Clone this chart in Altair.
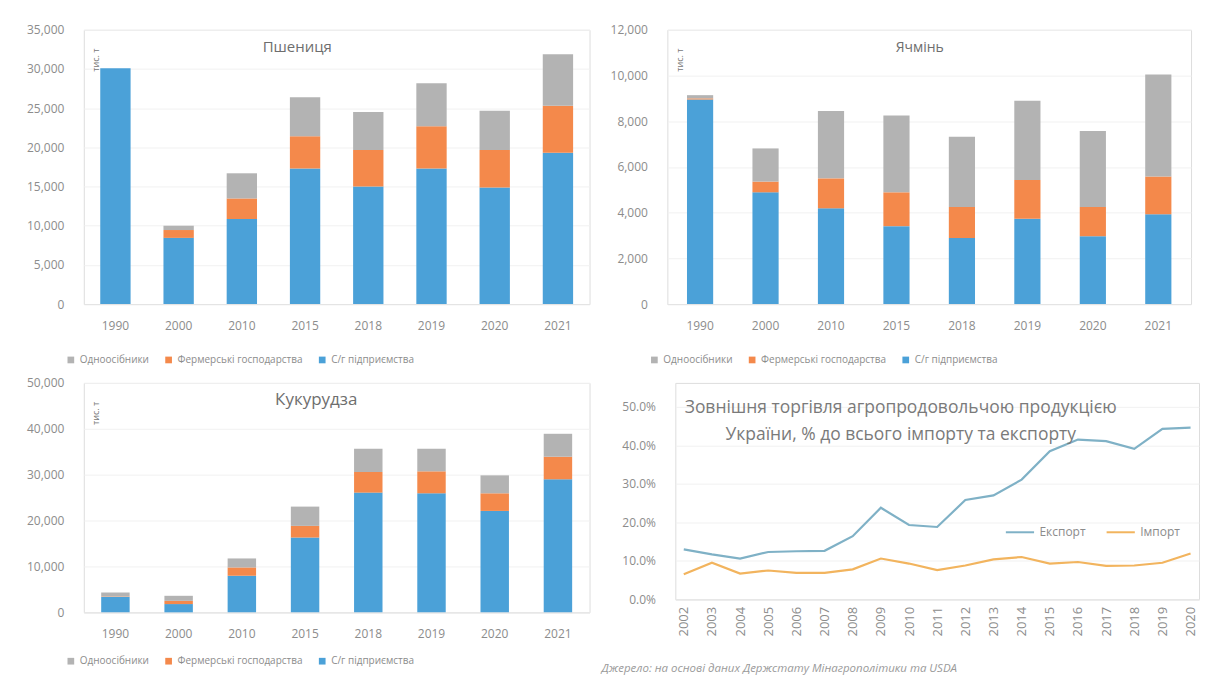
import altair as alt
import pandas as pd

FONT = "Open Sans"
GRAY_TXT = "#8c8c8c"

years = ["1990", "2000", "2010", "2015", "2018", "2019", "2020", "2021"]
series = ["Одноосібники", "Фермерські господарства", "С/г підприємства"]
bar_colors = ["#b3b3b3", "#f4894b", "#4ba1d8"]

# Пшениця, тис. т
wheat_enterprise = [30100, 8450, 10860, 17290, 15000, 17290, 14880, 19320]
wheat_farms = [0, 1000, 2620, 4140, 4650, 5410, 4770, 6000]
wheat_households = [0, 550, 3210, 4950, 4860, 5490, 5030, 6550]

# Ячмінь, тис. т
barley_enterprise = [8950, 4890, 4190, 3410, 2890, 3730, 2970, 3930]
barley_farms = [50, 470, 1310, 1480, 1360, 1700, 1280, 1650]
barley_households = [140, 1450, 2950, 3360, 3070, 3470, 3320, 4460]

# Кукурудза, тис. т
corn_enterprise = [3350, 1800, 7970, 16300, 26090, 25940, 22100, 28990]
corn_farms = [100, 700, 1810, 2540, 4490, 4790, 3840, 4920]
corn_households = [850, 1100, 1960, 4200, 5070, 4920, 3910, 5000]

# Зовнішня торгівля, %
trade_years = ["2002", "2003", "2004", "2005", "2006", "2007", "2008", "2009", "2010",
               "2011", "2012", "2013", "2014", "2015", "2016", "2017", "2018", "2019", "2020"]
export_share = [13.0, 11.7, 10.6, 12.3, 12.5, 12.6, 16.4, 23.8, 19.3, 18.8,
                25.8, 27.0, 31.1, 38.5, 41.5, 41.1, 39.1, 44.3, 44.6]
import_share = [6.5, 9.5, 6.7, 7.5, 6.9, 6.9, 7.8, 10.6, 9.3, 7.6,
                8.8, 10.4, 11.0, 9.3, 9.7, 8.7, 8.8, 9.5, 11.9]
trade_series = ["Експорт", "Імпорт"]
trade_colors = ["#7fb1c6", "#f2b45e"]


def bar_panel(title, ent, farm, hh, ymax, ystep, width, height, minext,
              title_x, title_dy, title_size, pad_inner, legend_dy):
    rows = []
    for i, yr in enumerate(years):
        rows.append({"year": yr, "series": series[2], "value": ent[i], "ord": 0})
        rows.append({"year": yr, "series": series[1], "value": farm[i], "ord": 1})
        rows.append({"year": yr, "series": series[0], "value": hh[i], "ord": 2})
    df = pd.DataFrame(rows)
    bars = alt.Chart(df).mark_bar().encode(
        x=alt.X("year:N", sort=years,
                scale=alt.Scale(paddingInner=pad_inner, paddingOuter=pad_inner / 2),
                axis=alt.Axis(title=None, labelAngle=0, ticks=False, domainColor="#e3e3e3",
                              labelColor=GRAY_TXT, labelFontSize=12, labelPadding=16)),
        y=alt.Y("value:Q", stack="zero",
                scale=alt.Scale(domain=[0, ymax], nice=False),
                axis=alt.Axis(title="тис. т", titleX=12, titleY=30, titleAlign="center",
                              titleBaseline="middle", titleFontSize=9, titleFontWeight="normal",
                              titleColor="#777777",
                              values=list(range(0, ymax + 1, ystep)), format=",d",
                              domain=False, ticks=False, grid=True, gridColor="#f1f1f1",
                              labelColor=GRAY_TXT, labelFontSize=12, labelPadding=20,
                              minExtent=minext)),
        color=alt.Color("series:N", scale=alt.Scale(domain=series, range=bar_colors),
                        legend=alt.Legend(orient="none", legendX=-18, legendY=height + legend_dy,
                                          direction="horizontal", title=None,
                                          symbolType="square", symbolSize=45,
                                          labelColor=GRAY_TXT, labelFontSize=10,
                                          columnPadding=14)),
        order=alt.Order("ord:Q", sort="ascending"),
    )
    ttl = alt.Chart(pd.DataFrame({"t": [title]})).mark_text(
        fontSize=title_size, color="#6e6e6e", font=FONT
    ).encode(text="t:N", x=alt.value(title_x), y=alt.value(title_dy))
    return alt.layer(bars, ttl).properties(width=width, height=height)


wheat = bar_panel("Пшениця", wheat_enterprise, wheat_farms, wheat_households,
                  35000, 5000, 507, 275, 70, 214, 17, 15, 0.52, 51)
barley = bar_panel("Ячмінь", barley_enterprise, barley_farms, barley_households,
                   12000, 2000, 525, 275, 66, 253, 18, 14, 0.6, 51)
corn = bar_panel("Кукурудза", corn_enterprise, corn_farms, corn_households,
                 50000, 10000, 507, 230, 70, 233, 17, 17, 0.55, 44)

# trade panel
trows = []
for i, yr in enumerate(trade_years):
    trows.append({"year": yr, "series": trade_series[0], "value": export_share[i] / 100})
    trows.append({"year": yr, "series": trade_series[1], "value": import_share[i] / 100})
tdf = pd.DataFrame(trows)
TW, TH = 525, 217
lines = alt.Chart(tdf).mark_line(strokeWidth=2.2).encode(
    x=alt.X("year:O", sort=trade_years, scale=alt.Scale(type="point", padding=0.3),
            axis=alt.Axis(title=None, labelAngle=270, ticks=False, domainColor="#e3e3e3",
                          labelColor=GRAY_TXT, labelFontSize=13, labelPadding=7)),
    y=alt.Y("value:Q", scale=alt.Scale(domain=[0, 0.5622], nice=False),
            axis=alt.Axis(title=None, values=[0, 0.1, 0.2, 0.3, 0.4, 0.5], format=".1%",
                          domain=False, ticks=False, grid=True, gridColor="#f1f1f1",
                          labelColor=GRAY_TXT, labelFontSize=12, labelPadding=20,
                          minExtent=66)),
    color=alt.Color("series:N", scale=alt.Scale(domain=trade_series, range=trade_colors),
                    legend=alt.Legend(orient="none", legendX=330, legendY=134,
                                      direction="horizontal", title=None,
                                      symbolType="stroke", symbolStrokeWidth=2,
                                      symbolSize=800, labelColor=GRAY_TXT,
                                      labelFontSize=12, columnPadding=16)),
)
ttitle = alt.Chart(pd.DataFrame({
    "t": ["Зовнішня торгівля агропродовольчою продукцією",
          "України, % до всього імпорту та експорту"],
    "dy": [25, 52]})).mark_text(fontSize=17.5, color="#7a7a7a", font=FONT).encode(
    text="t:N", x=alt.value(226), y=alt.Y("dy:Q", scale=None))
source = alt.Chart(pd.DataFrame({"t": ["Джерело: на основі даних Держстату Мінагрополітики та USDA"]})).mark_text(
    fontSize=11.5, fontStyle="italic", color="#9a9a9a", align="left", font=FONT
).encode(text="t:N", x=alt.value(-74), y=alt.value(TH + 70))
trade = alt.layer(lines, ttitle, source).properties(width=TW, height=TH)

top = alt.hconcat(wheat, barley, spacing=10).resolve_scale(color="independent")
bottom = alt.hconcat(corn, trade, spacing=10).resolve_scale(color="independent")
chart = alt.vconcat(top, bottom, spacing=10).resolve_scale(color="independent").properties(
    padding={"left": 5, "right": 5, "top": 14, "bottom": 0},
    background="white",
).configure_view(stroke=None).configure(font=FONT)

chart.save("out.html", embed_options={"renderer": "svg", "actions": False})
